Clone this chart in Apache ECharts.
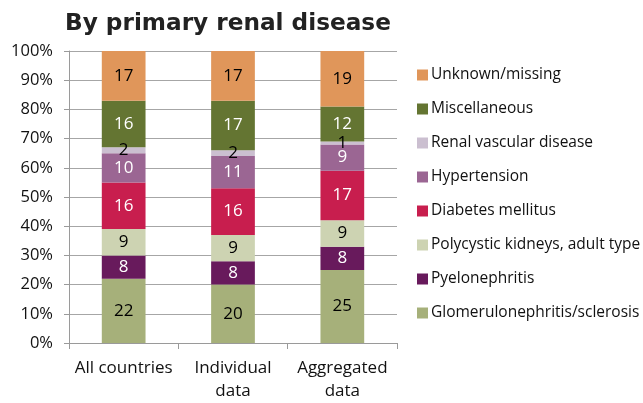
<!DOCTYPE html>
<html>
<head>
<meta charset="utf-8">
<script src="https://cdn.jsdelivr.net/npm/echarts@6/dist/echarts.min.js"></script>
<style>
  html, body { margin: 0; padding: 0; background: #fff; }
  #chart { width: 643px; height: 403px; }
</style>
</head>
<body>
<div id="chart"></div>
<script>
// categories and series (percent, as printed on the bars)
const categories = ['All countries', 'Individual\ndata', 'Aggregated\ndata'];
const seriesNames = [
  'Glomerulonephritis/sclerosis',
  'Pyelonephritis',
  'Polycystic kidneys, adult type',
  'Diabetes mellitus',
  'Hypertension',
  'Renal vascular disease',
  'Miscellaneous',
  'Unknown/missing'
];
const glomerulo = [22, 20, 25];
const pyelo = [8, 8, 8];
const polycystic = [9, 9, 9];
const diabetes = [16, 16, 17];
const hypertension = [10, 11, 9];
const renalVascular = [2, 2, 1];
const misc = [16, 17, 12];
const unknown = [17, 17, 19];
const yTicks = [0, 10, 20, 30, 40, 50, 60, 70, 80, 90, 100];

const values = [glomerulo, pyelo, polycystic, diabetes, hypertension, renalVascular, misc, unknown];
const colors = ['#a6b07a', '#681a5c', '#cdd3b2', '#c81e4e', '#9b6693', '#cbbfd0', '#647532', '#e0965a'];
const labelColors = ['#000', '#fff', '#000', '#fff', '#fff', '#000', '#fff', '#000'];

let mycharts = echarts.init(document.getElementById('chart'));

let series = seriesNames.map((name, i) => ({
  name: name,
  type: 'bar',
  stack: 'total',
  barWidth: '40%',
  data: values[i],
  itemStyle: { color: colors[i] },
  label: {
    show: true,
    position: 'inside',
    color: labelColors[i],
    fontSize: 17,
    fontFamily: 'Open Sans'
  }
}));

mycharts.setOption({
  animation: false,
  title: {
    text: 'By primary renal disease',
    left: 60,
    top: 7,
    textStyle: {
      fontFamily: 'DejaVu Sans',
      fontWeight: 'bold',
      fontSize: 23.2,
      color: '#222'
    }
  },
  grid: { left: 69, right: 246, top: 51, bottom: 59 },
  legend: {
    orient: 'vertical',
    left: 412,
    top: 62,
    itemWidth: 11,
    itemHeight: 11,
    itemGap: 18,
    icon: 'rect',
    data: seriesNames.slice().reverse(),
    textStyle: { fontFamily: 'Open Sans', fontSize: 15.5, color: '#111', padding: [0, 0, 0, -2] }
  },
  xAxis: {
    type: 'category',
    data: categories,
    axisLine: { show: true, lineStyle: { color: '#9a9a9a' } },
    axisTick: { show: true, length: 6, lineStyle: { color: '#9a9a9a' } },
    axisLabel: {
      interval: 0,
      fontFamily: 'Open Sans',
      fontSize: 17,
      color: '#111',
      margin: 14,
      lineHeight: 23
    }
  },
  yAxis: {
    type: 'value',
    min: 0,
    max: 100,
    interval: 10,
    axisLine: { show: true, lineStyle: { color: '#9a9a9a' } },
    axisTick: { show: true, length: 5, lineStyle: { color: '#9a9a9a' } },
    splitLine: { show: true, lineStyle: { color: '#a6a6a6' } },
    axisLabel: {
      fontFamily: 'Open Sans',
      fontSize: 16.5,
      color: '#111',
      margin: 16,
      customValues: yTicks,
      formatter: v => v + '%'
    }
  },
  series: series
});
</script>
</body>
</html>
